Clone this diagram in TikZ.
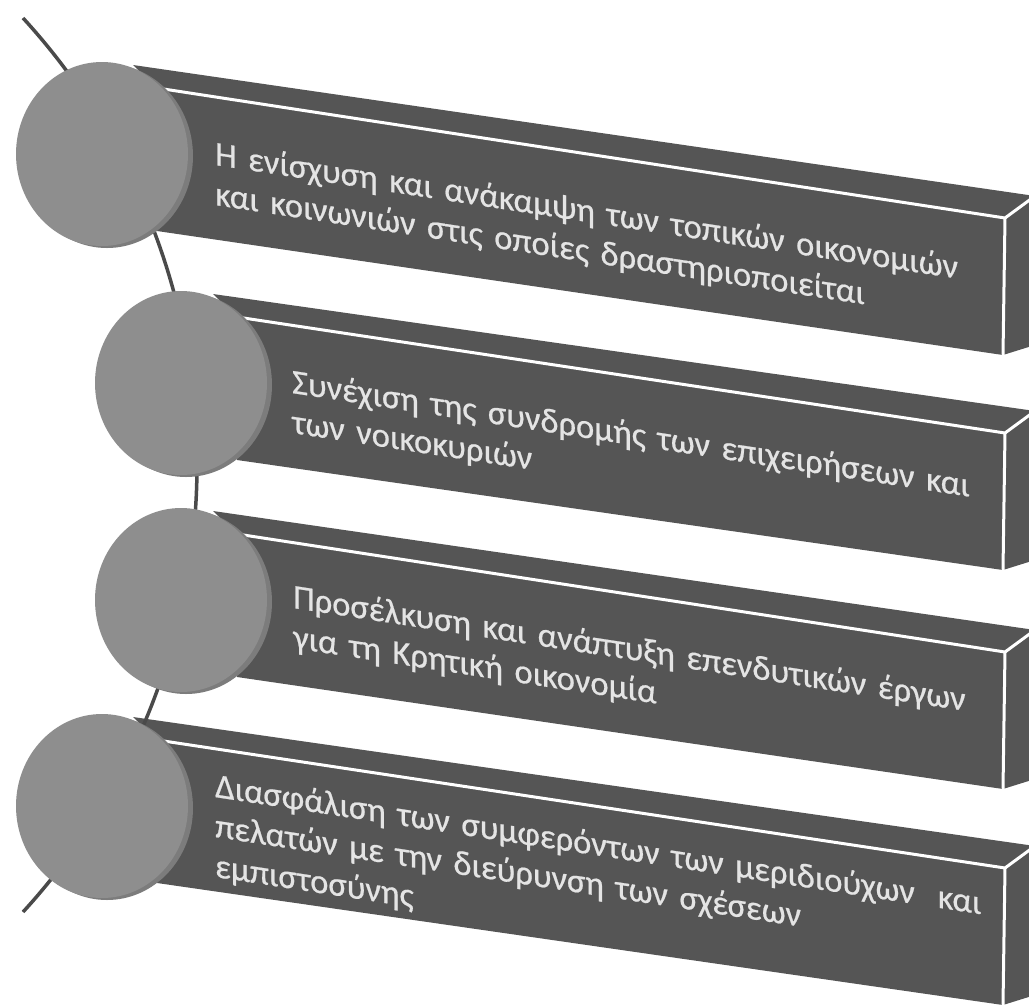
\documentclass[tikz,border=0pt]{standalone}
\usepackage{fontspec}
\setmainfont{Carlito}
\newfontfamily\bartextfont[FakeBold=0.6]{Carlito}
\usetikzlibrary{shapes.geometric}
\definecolor{bardark}{HTML}{555555}
\definecolor{discface}{HTML}{8E8E8E}
\definecolor{discedge}{HTML}{7C7C7C}
\definecolor{linegray}{HTML}{4A4A4A}
\definecolor{txtgray}{HTML}{E4E4E4}
\newcommand\drawbarshape[3]{%
  \pgfmathsetmacro\bxa{#1-24}\pgfmathsetmacro\bya{#2-23}%
  \pgfmathsetmacro\byb{#3-22}\pgfmathsetmacro\byc{#3+137}%
  \pgfmathsetmacro\byd{#2+143}\pgfmathsetmacro\bye{#3+127}%
  \fill[bardark] (\bxa,\bya) -- (1035,\byb) -- (1035,\bye) -- (1003,\byc) -- (#1,\byd) -- (#1,#2) -- cycle;
  \draw[edgeline] (#1,#2) -- (1005,#3) -- (1035,\byb);
  \draw[edgeline] (1005,#3) -- (1003,\byc);
}
\begin{document}
\begin{tikzpicture}[x=1pt,y=-1pt,
  edgeline/.style={draw=white,line width=3pt,line cap=round},
  linkline/.style={draw=linegray,line width=3.5pt},
  disc/.style={ellipse,minimum width=172pt,minimum height=184pt,inner sep=0pt,fill=discface},
  discrimstyle/.style={ellipse,minimum width=172pt,minimum height=184pt,inner sep=0pt,fill=discedge},
  bartext/.style={text=txtgray,font=\bartextfont\fontsize{34.5}{40}\selectfont,yslant=-0.153,
    anchor=base west,align=left,text width=820pt,inner sep=0pt}]
\useasboundingbox (0,0) rectangle (1029,1005);
\fill[white] (0,0) rectangle (1029,1005);
\clip (0,0) rectangle (1029,1005);
% bars
\drawbarshape{157}{88}{218}
\drawbarshape{237}{317}{433}
\drawbarshape{237}{534}{652}
\drawbarshape{157}{740}{868}
% connecting line
\coordinate (ltop) at (23,18);
\coordinate (lmid) at (197,465);
\coordinate (lbot) at (23,912);
\draw[linkline] (ltop) .. controls (134.5,139.6) and (197,300) .. (lmid)
  .. controls (197,630) and (134.5,790.4) .. (lbot);
% discs
\node[discrimstyle] (r1) at (107,156) {};
\node[disc] (c1) at (102,154) {};
\node[discrimstyle] (r2) at (186,385) {};
\node[disc] (c2) at (181,383) {};
\node[discrimstyle] (r3) at (186,602) {};
\node[disc] (c3) at (181,600) {};
\node[discrimstyle] (r4) at (107,808) {};
\node[disc] (c4) at (102,806) {};
% texts
\node[bartext] (t1) at (215,165) {Η ενίσχυση και ανάκαμψη των τοπικών οικονομιών\\και κοινωνιών στις οποίες δραστηριοποιείται};
\node[bartext] (t2) at (292,393) {Συνέχιση της συνδρομής των επιχειρήσεων και\\των νοικοκυριών};
\node[bartext] (t3) at (293,608) {Προσέλκυση και ανάπτυξη επενδυτικών έργων\\για τη Κρητική οικονομία};
\node[bartext] (t4) at (215,797) {Διασφάλιση των συμφερόντων των μεριδιούχων~ και\\πελατών με την διεύρυνση των σχέσεων\\εμπιστοσύνης};
\end{tikzpicture}
\end{document}
